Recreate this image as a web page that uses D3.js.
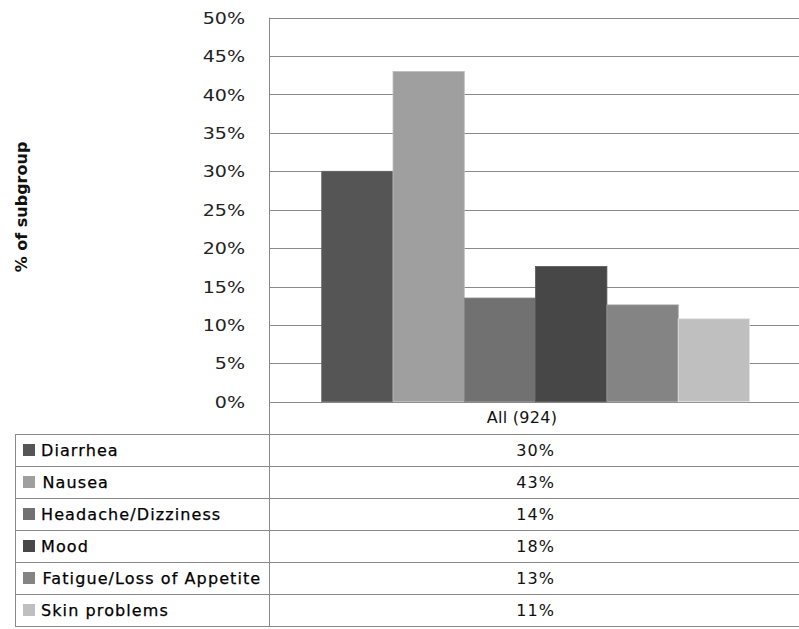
<!DOCTYPE html>
<html>
<head>
<meta charset="utf-8">
<script src="https://cdn.jsdelivr.net/npm/d3@7/dist/d3.min.js"></script>
<style>
  html, body { margin: 0; padding: 0; background: #fff; }
  svg { display: block; }
  text { font-family: "DejaVu Sans", Verdana, sans-serif; }
</style>
</head>
<body>
<svg id="chart" width="799" height="629"></svg>
<script>
const category = "All (924)";
const seriesNames = ["Diarrhea", "Nausea", "Headache/Dizziness", "Mood", "Fatigue/Loss of Appetite", "Skin problems"];
const seriesValues = [30.0, 43.0, 13.5, 17.6, 12.6, 10.8];
const seriesColors = ["#555555", "#9f9f9f", "#717171", "#474747", "#848484", "#bfbfbf"];
const yTicks = [0, 5, 10, 15, 20, 25, 30, 35, 40, 45, 50];

const svg = d3.select("#chart");
const W = 799;
const plot = { left: 269, right: 799, top: 17.7, bottom: 401.7 };
const table = { left: 15, top: 434, rowH: 32 };

const y = d3.scaleLinear().domain([0, 50]).range([plot.bottom, plot.top]);
const xCat = d3.scaleBand().domain([category]).range([plot.left, plot.right]).paddingInner(0).paddingOuter(0.1);
const xSer = d3.scaleBand().domain(seriesNames).range([plot.left + 52.7, plot.left + 52.7 + 6 * 71.3]).padding(0);

// gridlines
svg.append("g").selectAll("line").data(yTicks).join("line")
  .attr("x1", plot.left).attr("x2", plot.right)
  .attr("y1", d => Math.round(y(d)) + 0.5).attr("y2", d => Math.round(y(d)) + 0.5)
  .attr("stroke", "#8a8a8a").attr("stroke-width", 1);

// y axis using d3 axis
const yAxis = d3.axisLeft(y).tickValues(yTicks).tickFormat(d => d + "%").tickSize(0).tickPadding(0);
const gy = svg.append("g").attr("transform", `translate(245,0)`).call(yAxis);
gy.select(".domain").remove();
gy.selectAll("text").attr("font-size", 16).attr("fill", "#222")
  .attr("font-family", "DejaVu Sans, sans-serif").attr("dy", "0.35em")
  .attr("transform", "scale(1.19,1)");

// bars
svg.append("g").selectAll("rect").data(seriesNames).join("rect")
  .attr("x", d => xSer(d))
  .attr("width", xSer.bandwidth())
  .attr("y", (d, i) => y(seriesValues[i]))
  .attr("height", (d, i) => plot.bottom - y(seriesValues[i]))
  .attr("fill", (d, i) => seriesColors[i])
  .attr("stroke", (d, i) => d3.color(seriesColors[i]).brighter(0.5))
  .attr("stroke-width", 0.8);

// vertical axis line
svg.append("line")
  .attr("x1", plot.left + 0.5).attr("x2", plot.left + 0.5)
  .attr("y1", plot.top).attr("y2", table.top + seriesNames.length * table.rowH)
  .attr("stroke", "#8a8a8a");

// table horizontal lines
const rowLines = d3.range(seriesNames.length + 1).map(i => table.top + i * table.rowH);
svg.append("g").selectAll("line").data(rowLines).join("line")
  .attr("x1", table.left).attr("x2", W)
  .attr("y1", d => Math.round(d) + 0.5).attr("y2", d => Math.round(d) + 0.5)
  .attr("stroke", "#8a8a8a");
// table left border
svg.append("line")
  .attr("x1", table.left + 0.5).attr("x2", table.left + 0.5)
  .attr("y1", table.top).attr("y2", table.top + seriesNames.length * table.rowH)
  .attr("stroke", "#8a8a8a");

// category label
svg.append("text")
  .attr("x", xCat(category) + xCat.bandwidth() / 2 - 12)
  .attr("y", (plot.bottom + table.top) / 2)
  .attr("dy", "0.35em")
  .attr("text-anchor", "middle")
  .attr("font-size", 16).attr("letter-spacing", "0.3px").attr("fill", "#111")
  .text(category);

// table rows
const rows = svg.append("g").selectAll("g").data(seriesNames).join("g")
  .attr("transform", (d, i) => `translate(0,${table.top + i * table.rowH})`);
rows.append("rect")
  .attr("x", 23).attr("y", table.rowH / 2 - 6).attr("width", 12).attr("height", 12)
  .attr("fill", (d, i) => seriesColors[i]);
rows.append("text")
  .attr("x", (d, i) => (i === 1 || i === 4) ? 42.5 : 41)
  .attr("y", table.rowH / 2).attr("dy", "0.35em")
  .attr("font-size", 16).attr("letter-spacing", "1.1px").attr("fill", "#000")
  .attr("stroke", "#000").attr("stroke-width", 0.25)
  .text(d => d);
rows.append("text")
  .attr("x", xSer.range()[0] + (xSer.range()[1] - xSer.range()[0]) / 2)
  .attr("y", table.rowH / 2).attr("dy", "0.35em")
  .attr("text-anchor", "middle")
  .attr("font-size", 16).attr("letter-spacing", "1px").attr("fill", "#111")
  .text((d, i) => Math.round(seriesValues[i]) + "%");

// y axis title
svg.append("text")
  .attr("transform", `translate(21,207) rotate(-90)`)
  .attr("dy", "0.35em")
  .attr("text-anchor", "middle")
  .attr("font-size", 16).attr("font-weight", "bold").attr("fill", "#111")
  .text("% of subgroup");
</script>
</body>
</html>
